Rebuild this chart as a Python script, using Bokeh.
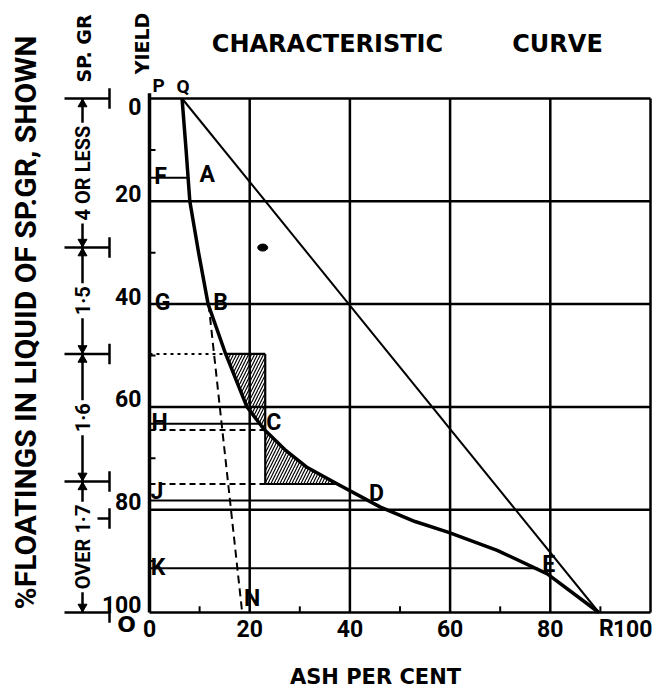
import math
from bokeh.plotting import figure
from bokeh.models import Range1d
from bokeh.embed import file_html
from bokeh.resources import INLINE
from bokeh.core.properties import value

# ---------------- data ----------------
grid_ticks = [0, 20, 40, 60, 80, 100]
minor_ticks = [10, 30, 50, 70, 90]
x_tick_labels = ["0", "20", "40", "60", "80", "100"]
y_tick_labels = ["0", "20", "40", "60", "80", "100"]

# characteristic curve (ash %, cumulative yield %)
curve_ash = [6.5, 7.3, 8.05, 9.8, 11.7, 15.2, 19.4, 22.8, 27.0, 31.5, 37.5, 46.1, 53.0, 59.7, 69.4, 79.4, 89.7]
curve_yield = [0, 10, 20, 30, 40, 49.7, 59.9, 64.3, 68.3, 71.8, 75.0, 79.5, 82.3, 84.4, 87.9, 92.5, 100]

# straight line Q-R
qr_ash = [6.5, 89.7]
qr_yield = [0, 100]

# B-N dashed line
bn_ash = [11.8, 18.5]
bn_yield = [40, 100]

# horizontal construction lines: (yield, ash end)
solid_y = [15.4, 63.3, 78.2, 91.4]
solid_x_end = [7.75, 22.0, 43.6, 77.5]
dashed_y = [64.5, 75.0]
dashed_x_end = [23.1, 23.1]
dotted_y = [49.7]
dotted_x_end = [15.2]

# shaded elements boundary
box_ash = 23.1
box_top, box_bottom = 49.7, 75.0
box_bottom_end = 37.5

# point letters
pt_text = ["F", "A", "G", "B", "H", "C", "J", "D", "K", "E", "N"]
pt_ash = [2.2, 11.5, 2.6, 14.2, 2.0, 24.8, 1.5, 45.3, 1.7, 79.7, 20.5]
pt_yield = [15.2, 14.7, 39.6, 39.6, 63.1, 63.1, 76.5, 76.8, 91.2, 90.7, 97.2]
top_text = ["P", "Q"]
top_ash = [1.8, 6.7]
top_yield = [-2.5, -2.3]

# specific gravity scale
sg_marks = [0, 29, 49.7, 74.5, 100]
sg_extra = [81.7]
sg_labels = ["4 OR LESS", "1·5", "1·6", "OVER 1·7"]

# ink blot
blot_ash = [22.6]
blot_yield = [29.0]

# ---------------- layout ----------------
W, H = 654, 687
PX0, PX100 = 149, 650
PY0, PY100 = 98, 612
sx = (PX100 - PX0) / 100.0
sy = (PY100 - PY0) / 100.0


def ax(px):  # pixel x -> data
    return (px - PX0) / sx


def ay(py):  # pixel y -> data
    return (py - PY0) / sy


p = figure(width=W, height=H, output_backend="svg", toolbar_location=None,
           x_range=Range1d(-PX0 / sx, (W - PX0) / sx),
           y_range=Range1d((H - PY0) / sy, -PY0 / sy),
           x_axis_type=None, y_axis_type=None, min_border=0,
           outline_line_color=None, background_fill_color="white",
           border_fill_color="white")
p.grid.visible = False

INK = "black"
BOLD = dict(text_font_style="bold", text_color=INK)

# grid / frame
lo, hi = grid_ticks[0], grid_ticks[-1]
p.segment(x0=grid_ticks[1:], y0=[lo] * 5, x1=grid_ticks[1:], y1=[hi] * 5, line_width=2.5, color=INK)
p.segment(x0=[lo] * 6, y0=grid_ticks, x1=[hi] * 6, y1=grid_ticks, line_width=2.5, color=INK)
p.segment(x0=[lo], y0=[lo - 1], x1=[lo], y1=[hi], line_width=3.5, color=INK)
# minor ticks
p.segment(x0=[lo] * 5, y0=minor_ticks, x1=[lo + 1.2] * 5, y1=minor_ticks, line_width=2, color=INK)
p.segment(x0=minor_ticks, y0=[hi] * 5, x1=minor_ticks, y1=[hi - 1.2] * 5, line_width=2, color=INK)

# hatched areas
i_top = curve_yield.index(box_top)
i_c = curve_yield.index(64.3)
i_bot = curve_yield.index(box_bottom)
hx1 = [box_ash, box_ash] + curve_ash[i_c:i_top - 1:-1]
hy1 = [box_top, 64.5] + curve_yield[i_c:i_top - 1:-1]
hx2 = [box_ash, box_ash] + curve_ash[i_bot:i_c - 1:-1]
hy2 = [64.5, box_bottom] + curve_yield[i_bot:i_c - 1:-1]
for hx, hy in ((hx1, hy1), (hx2, hy2)):
    p.patch(hx, hy, fill_alpha=0, line_color=None, hatch_pattern="/",
            hatch_color=INK, hatch_scale=6, hatch_weight=1.2)
# box edges
p.segment(x0=[box_ash, curve_ash[i_top], box_ash], y0=[box_top, box_top, box_bottom],
          x1=[box_ash, box_ash, box_bottom_end], y1=[box_bottom, box_top, box_bottom],
          line_width=2.2, color=INK)

# construction lines
p.segment(x0=[0] * len(solid_y), y0=solid_y, x1=solid_x_end, y1=solid_y, line_width=2, color=INK)
p.segment(x0=[0] * len(dashed_y), y0=dashed_y, x1=dashed_x_end, y1=dashed_y, line_width=2,
          color=INK, line_dash="6 4")
p.segment(x0=[0], y0=dotted_y, x1=dotted_x_end, y1=dotted_y, line_width=2, color=INK, line_dash="3 4")
p.line(bn_ash, bn_yield, line_width=2, color=INK, line_dash="8 5")

# Q-R straight line and characteristic curve
p.line(qr_ash, qr_yield, line_width=2, color=INK)
p.line(curve_ash, curve_yield, line_width=3.5, color=INK, line_join="round")

p.ellipse(x=blot_ash, y=blot_yield, width=10, height=7, width_units="screen",
          height_units="screen", color=INK)

# point letters
p.text(x=pt_ash, y=pt_yield, text=pt_text, text_align="center", text_baseline="middle",
       text_font=value("Roboto"), text_font_size="23px", **BOLD)
p.text(x=top_ash, y=top_yield, text=top_text, text_align="center", text_baseline="middle",
       text_font=value("Roboto"), text_font_size="19px", **BOLD)

# tick labels
TICK = dict(text_font=value("Roboto"), text_font_size="23px", text_baseline="middle", **BOLD)
p.text(x=[ax(141)], y=grid_ticks[:1], text=y_tick_labels[:1], text_align="right", y_offset=8, **TICK)
p.text(x=[ax(141)] * 5, y=grid_ticks[1:], text=y_tick_labels[1:], text_align="right", y_offset=-8, **TICK)
p.text(x=grid_ticks[:-1], y=[ay(628)] * 5, text=x_tick_labels[:-1], text_align="center", **TICK)
p.text(x=[ax(652)], y=[ay(628)], text=[x_tick_labels[-1]], text_align="right", **TICK)
p.text(x=[qr_ash[-1]], y=[ay(628)], text=["R"], text_align="left", **TICK)
p.text(x=[ax(126)], y=[ay(624)], text=["O"], text_align="center", text_baseline="middle",
       text_font=value("DejaVu Sans"), text_font_size="22px", **BOLD)

# titles
p.text(x=[ax(327)], y=[ay(43)], text=["CHARACTERISTIC"], text_align="center", text_baseline="middle",
       text_font=value("DejaVu Sans"), text_font_size="24px", **BOLD)
p.text(x=[ax(557)], y=[ay(43)], text=["CURVE"], text_align="center", text_baseline="middle",
       text_font=value("DejaVu Sans"), text_font_size="24px", **BOLD)
p.text(x=[ax(375)], y=[ay(676)], text=["ASH PER CENT"], text_align="center", text_baseline="middle",
       text_font=value("DejaVu Sans"), text_font_size="21px", **BOLD)
p.text(x=[ax(141)], y=[ay(43)], text=["YIELD"], angle=math.pi / 2, text_align="center",
       text_baseline="middle", text_font=value("DejaVu Sans"), text_font_size="19px", **BOLD)
p.text(x=[ax(83)], y=[ay(48)], text=["SP. GR"], angle=math.pi / 2, text_align="center",
       text_baseline="middle", text_font=value("DejaVu Sans"), text_font_size="19px", **BOLD)
p.text(x=[ax(25)], y=[ay(322)], text=["%FLOATINGS IN LIQUID OF SP.GR, SHOWN"], angle=math.pi / 2,
       text_align="center", text_baseline="middle", text_font=value("Roboto"),
       text_font_size="30px", **BOLD)

# specific-gravity dimension scale
sgx = ax(82)
m_l, m_r = ax(64), ax(109)
p.segment(x0=[sgx], y0=[sg_marks[0]], x1=[sgx], y1=[sg_marks[-1]], line_width=2.5, color=INK)
p.segment(x0=[m_l] * len(sg_marks), y0=sg_marks, x1=[m_r] * len(sg_marks), y1=sg_marks,
          line_width=2.5, color=INK)
p.segment(x0=[ax(87)] * len(sg_extra), y0=sg_extra, x1=[m_r] * len(sg_extra), y1=sg_extra,
          line_width=2.5, color=INK)
ends = sg_marks + sg_extra
p.segment(x0=[m_r] * len(ends), y0=[v - 2 for v in ends], x1=[m_r] * len(ends), y1=[v + 2 for v in ends],
          line_width=2.5, color=INK)
p.scatter(x=[sgx] * 4, y=[v + 1.1 for v in sg_marks[:-1]], marker="triangle", size=9, color=INK)
p.scatter(x=[sgx] * 4, y=[v - 1.1 for v in sg_marks[1:]], marker="inverted_triangle", size=9, color=INK)
mids = [(a + b) / 2 for a, b in zip(sg_marks[:-1], sg_marks[1:])]
p.text(x=[sgx] * len(mids), y=mids, text=sg_labels, angle=math.pi / 2, text_align="center",
       text_baseline="middle", text_font=value("Roboto"), text_font_size="20px",
       background_fill_color="white", padding=3, **BOLD)

open("out.html", "w").write(file_html(p, INLINE))
